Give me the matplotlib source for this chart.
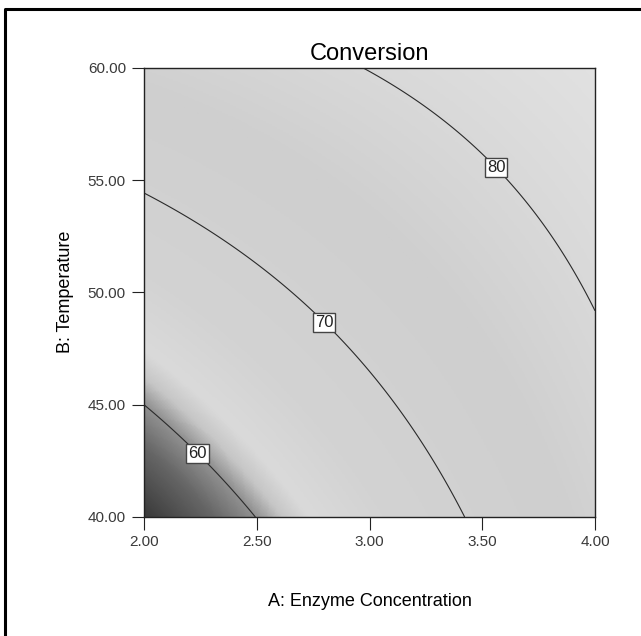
import numpy as np
import matplotlib
matplotlib.use("Agg")
import matplotlib.pyplot as plt
from matplotlib.colors import LinearSegmentedColormap, Normalize
from matplotlib.lines import Line2D

# factor ranges (actual units)
a_range = [2.0, 4.0]      # A: Enzyme Concentration
b_range = [40.0, 60.0]    # B: Temperature

# quadratic model in coded units: b0, A, B, AB, A^2, B^2
model_coef = [72.56, 7.538, 7.358, -3.256, 0.234, 0.201]

contour_levels = [60, 70, 80]
label_a = [2.25, 2.80, 3.57]
label_b = [42.97, 48.69, 55.63]

x_ticks = [2.0, 2.5, 3.0, 3.5, 4.0]
y_ticks = [40.0, 45.0, 50.0, 55.0, 60.0]

# shading levels (response value -> gray)
shade_vals = [55, 58, 60, 61.2, 62.5, 66, 75, 85]
shade_grays = ["#3c3c3c", "#666666", "#929292", "#c6c6c6", "#dadada",
               "#d3d3d3", "#cfcfcf", "#e2e2e2"]

plt.rcParams['font.family'] = ['Liberation Sans', 'DejaVu Sans']
tick_font = ['Liberation Sans Narrow', 'Liberation Sans', 'DejaVu Sans']

fig = plt.figure(figsize=(6.41, 6.36), dpi=100)
ax = fig.add_axes([144 / 641, 1 - 517 / 636, 451 / 641, 449 / 636])

a = np.linspace(a_range[0], a_range[1], 300)
b = np.linspace(b_range[0], b_range[1], 300)
A, B = np.meshgrid(a, b)
ca = (A - 3.0) / 1.0
cb = (B - 50.0) / 10.0
c = model_coef
Z = c[0] + c[1]*ca + c[2]*cb + c[3]*ca*cb + c[4]*ca**2 + c[5]*cb**2

lo, hi = shade_vals[0], shade_vals[-1]
nodes = [((v - lo) / (hi - lo), g) for v, g in zip(shade_vals, shade_grays)]
cmap = LinearSegmentedColormap.from_list("dx", nodes)
ax.imshow(Z, extent=a_range + b_range, origin="lower", aspect="auto",
          cmap=cmap, norm=Normalize(lo, hi), interpolation="bilinear")

cs = ax.contour(A, B, Z, levels=contour_levels, colors="#2a2a2a", linewidths=0.8)
labels = ax.clabel(cs, fmt="%d", inline=False, fontsize=12,
                   manual=list(zip(label_a, label_b)))
for t in labels:
    t.set_rotation(0)
    t.set_color("#222222")
    t.set_bbox(dict(facecolor="white", edgecolor="#444444", linewidth=1.0,
                    boxstyle="square,pad=0.12"))

ax.set_xlim(a_range)
ax.set_ylim(b_range)
ax.set_xticks(x_ticks)
ax.set_yticks(y_ticks)
ax.set_xticklabels([f"{v:.2f}" for v in x_ticks], family=tick_font, fontsize=11, color="#3a3a3a")
ax.set_yticklabels([f"{v:.2f}" for v in y_ticks], family=tick_font, fontsize=11, color="#3a3a3a")
ax.tick_params(direction="out", length=9, width=0.8, pad=4, color="#222222")
for s in ax.spines.values():
    s.set_linewidth(1.0)
    s.set_color("#222222")

ax.set_title("Conversion", fontsize=17, pad=6)
fig.text(369.5 / 641, 1 - 601 / 636, "A: Enzyme Concentration", fontsize=13,
         ha="center", va="center")
fig.text(66 / 641, 1 - 292 / 636, "B: Temperature", fontsize=13,
         ha="center", va="center", rotation=90)

# outer frame (only top and left edges visible)
fy = 1 - 8.5 / 636
fx = 4.5 / 641
fig.add_artist(Line2D([fx, fx, 1.0], [0.0, fy, fy], transform=fig.transFigure,
                      color="black", linewidth=2.2))

fig.savefig("out.png")
